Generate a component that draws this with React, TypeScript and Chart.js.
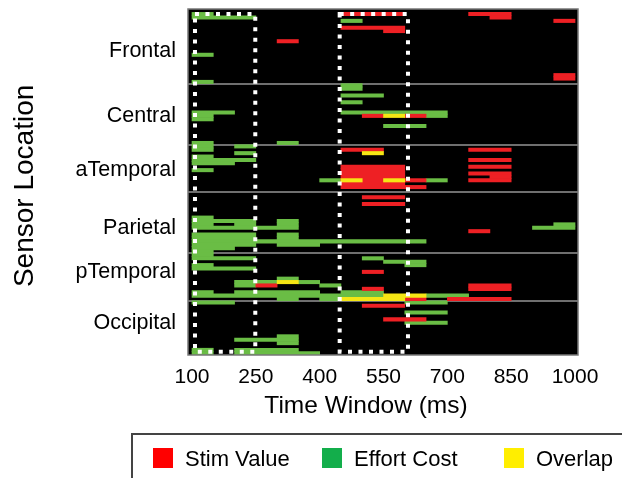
import React, { useEffect, useRef } from 'react';
import { Chart, registerables } from 'chart.js';

Chart.register(...registerables);

// ---- data ----
const ROW_COUNT = 102;
const rowIds: string[] = Array.from({ length: ROW_COUNT }, (_, i) => 'r' + i);

const groupNames = ['Frontal', 'Central', 'aTemporal', 'Parietal', 'pTemporal', 'Occipital'];
const groupStartRows = [0, 22, 40, 54, 72, 86];
const groupLabelRows = [12, 31, 47, 64, 77, 92];

const xTickValues = [100, 250, 400, 550, 700, 850, 1000];
const timeMin = 90.6;
const timeMax = 1007;

// [sensor row, window start (ms), window end (ms)]
const stimValue: [number, number, number][] = [
  [1, 450, 600], [1, 750, 850], [2, 800, 850], [3, 950, 1000], [5, 450, 600], [6, 550, 600],
  [9, 300, 350], [19, 950, 1000], [20, 950, 1000],
  [31, 500, 550], [31, 600, 650],
  [41, 450, 550], [41, 750, 850], [44, 750, 850], [46, 750, 850], [48, 750, 850], [49, 800, 850], [50, 750, 850],
  [46, 450, 600], [47, 450, 600], [48, 450, 600], [49, 450, 600], [50, 450, 600], [51, 450, 600], [52, 450, 600],
  [50, 600, 650], [52, 600, 650],
  [55, 500, 600], [57, 500, 600], [65, 750, 800],
  [77, 500, 550], [81, 250, 300], [81, 750, 850], [82, 750, 850], [82, 500, 550], [85, 600, 650], [85, 700, 850],
  [87, 500, 600], [91, 550, 650],
];

const effortCost: [number, number, number][] = [
  [1, 100, 150], [2, 100, 250], [3, 450, 500], [13, 100, 150], [21, 100, 150],
  [22, 450, 500], [23, 450, 500], [25, 450, 550], [27, 450, 500], [30, 100, 200], [30, 450, 700],
  [31, 100, 150], [31, 650, 700], [32, 100, 150], [34, 550, 650], [39, 100, 150], [39, 300, 350],
  [40, 100, 150], [40, 200, 250], [41, 100, 150], [42, 200, 250], [43, 100, 150], [44, 100, 250],
  [45, 100, 200], [47, 100, 150], [50, 400, 450], [50, 650, 700],
  [61, 100, 150], [62, 100, 250], [62, 300, 350], [63, 100, 150], [63, 200, 250], [63, 300, 350],
  [63, 950, 1000], [64, 100, 350], [64, 900, 1000], [66, 100, 250], [66, 300, 350], [67, 100, 250],
  [67, 300, 350], [68, 100, 650], [69, 100, 250], [69, 300, 400], [70, 100, 200], [71, 100, 150],
  [72, 100, 150], [73, 100, 250], [73, 500, 550], [74, 550, 650], [75, 100, 150], [75, 600, 650],
  [76, 100, 250], [79, 300, 350], [80, 200, 300], [80, 350, 400], [81, 200, 250], [81, 400, 450],
  [83, 100, 150], [83, 200, 400], [83, 450, 550], [84, 100, 550], [84, 650, 750], [85, 300, 350], [85, 400, 450],
  [86, 100, 200], [86, 600, 700], [89, 600, 700], [92, 600, 700], [96, 300, 350], [97, 200, 350],
  [98, 300, 350], [100, 100, 150], [100, 200, 350], [101, 100, 150], [101, 200, 400],
];

const overlap: [number, number, number][] = [
  [31, 550, 600], [42, 500, 550], [50, 450, 500], [50, 550, 600], [80, 300, 350], [84, 550, 650], [85, 450, 600],
];

// highlighted analysis windows (ms)
const boxWindows: [number, number][] = [[107, 248.7], [447, 607.5]];

// ---- styles ----
const RED = '#EE2024';
const GREEN = '#6ABD45';
const YELLOW = '#F5E614';
const FONT = "'Liberation Sans', Arial, Helvetica, sans-serif";

const plotFrame = {
  id: 'plotFrame',
  beforeDraw(chart: any) {
    const { ctx, chartArea } = chart;
    const { left, top, right, bottom } = chartArea;
    ctx.save();
    ctx.fillStyle = '#000';
    ctx.fillRect(left, top, right - left, bottom - top);
    ctx.restore();
  },
  afterDraw(chart: any) {
    const { ctx, chartArea, scales } = chart;
    const { left, top, right, bottom } = chartArea;
    ctx.save();
    ctx.strokeStyle = '#777';
    ctx.lineWidth = 1.5;
    ctx.strokeRect(left, top, right - left, bottom - top);
    // dashed analysis windows
    const xs = scales.x;
    const bTop = top + 5;
    const bBottom = bottom - 3.3;
    ctx.strokeStyle = '#ffffff';
    ctx.lineWidth = 4;
    ctx.lineCap = 'butt';
    ctx.setLineDash([4, 6.5]);
    boxWindows.forEach(([a, b]) => {
      const l = xs.getPixelForValue(a);
      const r = xs.getPixelForValue(b);
      ctx.beginPath();
      ctx.moveTo(l, bTop);
      ctx.lineTo(r, bTop);
      ctx.lineTo(r, bBottom);
      ctx.lineTo(l, bBottom);
      ctx.closePath();
      ctx.stroke();
    });
    ctx.restore();
  },
};

const toBars = (list: [number, number, number][]) => list.map(([r, s, e]) => ({ x: [s, e], y: rowIds[r] }));

export default function App() {
  const canvasRef = useRef<HTMLCanvasElement | null>(null);

  useEffect(() => {
    if (!canvasRef.current) return;
    const barCommon = {
      type: 'bar',
      xAxisID: 'x',
      yAxisID: 'y',
      indexAxis: 'y',
      grouped: false,
      barPercentage: 1,
      categoryPercentage: 1,
      borderWidth: 0,
    };
    const chart = new Chart(canvasRef.current, {
      type: 'bar',
      data: {
        labels: rowIds,
        datasets: [
          { ...barCommon, label: 'Overlap', data: toBars(overlap), backgroundColor: YELLOW, order: 1 },
          { ...barCommon, label: 'Stim Value', data: toBars(stimValue), backgroundColor: RED, order: 2 },
          { ...barCommon, label: 'Effort Cost', data: toBars(effortCost), backgroundColor: GREEN, order: 3 },
        ] as any,
      },
      options: {
        indexAxis: 'y',
        responsive: false,
        devicePixelRatio: 1,
        animation: false,
        events: [],
        layout: { padding: { left: 0, top: 9, right: 44, bottom: 57 } },
        plugins: { legend: { display: false }, tooltip: { enabled: false } },
        scales: {
          x: {
            type: 'linear',
            position: 'bottom',
            min: timeMin,
            max: timeMax,
            offset: false,
            afterBuildTicks: (scale: any) => {
              scale.ticks = xTickValues.map((v) => ({ value: v }));
            },
            afterFit: (scale: any) => {
              scale.height = 66;
              scale.paddingLeft = 0;
              scale.paddingRight = 0;
            },
            grid: { display: false, drawTicks: false, offset: false },
            border: { display: false },
            ticks: {
              color: '#000',
              padding: 10,
              maxRotation: 0,
              autoSkip: false,
              font: { family: FONT, size: 21 },
              callback: (v: any) => String(v),
            },
            title: {
              display: true,
              text: 'Time Window (ms)' + '\u00a0'.repeat(5),
              color: '#000',
              padding: 0,
              font: { family: FONT, size: 24.5 },
            },
          },
          y: {
            type: 'category',
            position: 'left',
            offset: true,
            z: 1,
            afterFit: (scale: any) => {
              scale.width = 188;
              scale.paddingTop = 0;
              scale.paddingBottom = 0;
            },
            grid: {
              offset: true,
              drawTicks: false,
              lineWidth: 2,
              color: (ctx: any) =>
                groupStartRows.includes(ctx.index) && ctx.index > 0 ? '#6f6f6f' : 'rgba(0,0,0,0)',
            },
            border: { display: false },
            ticks: {
              autoSkip: false,
              color: '#000',
              padding: 12,
              font: { family: FONT, size: 21.5 },
              callback: (_v: any, index: number) => {
                const g = groupLabelRows.indexOf(index);
                return g >= 0 ? groupNames[g] : '';
              },
            },
            title: {
              display: true,
              text: 'Sensor Location\u00a0',
              color: '#000',
              padding: { top: 8, bottom: 0 },
              font: { family: FONT, size: 28 },
            },
          },
        },
      } as any,
      plugins: [plotFrame],
    });
    return () => chart.destroy();
  }, []);

  const legendItems = [
    { label: 'Stim Value', color: '#FF0000', sq: 153, tx: 185 },
    { label: 'Effort Cost', color: '#13AE4B', sq: 322, tx: 354 },
    { label: 'Overlap', color: '#FFEE00', sq: 504, tx: 536 },
  ];

  return (
    <div
      style={{
        position: 'absolute',
        left: 0,
        top: 0,
        width: 622,
        height: 478,
        overflow: 'hidden',
        background: '#fff',
      }}
    >
      <canvas ref={canvasRef} width={622} height={478} style={{ display: 'block' }} />
      <div
        style={{
          position: 'absolute',
          left: 131,
          top: 433,
          width: 600,
          height: 100,
          border: '2px solid #444',
          boxSizing: 'border-box',
        }}
      />
      {legendItems.map((it) => (
        <React.Fragment key={it.label}>
          <div
            style={{
              position: 'absolute',
              left: it.sq,
              top: 448,
              width: 20,
              height: 20,
              background: it.color,
            }}
          />
          <div
            style={{
              position: 'absolute',
              left: it.tx,
              top: 448,
              height: 22,
              lineHeight: '22px',
              fontSize: 22,
              fontFamily: FONT,
              color: '#000',
              whiteSpace: 'nowrap',
            }}
          >
            {it.label}
          </div>
        </React.Fragment>
      ))}
    </div>
  );
}
